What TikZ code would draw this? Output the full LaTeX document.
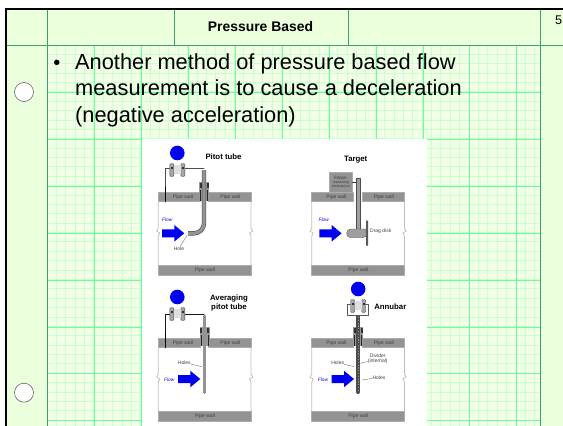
\documentclass[tikz,border=0pt]{standalone}
\usepackage{fontspec}
\setmainfont{Liberation Sans}
\definecolor{cellgreen}{HTML}{EBFFDC}
\definecolor{paleline}{HTML}{CCFFCC}
\definecolor{majorline}{HTML}{66FF99}
\definecolor{ruleline}{HTML}{3C9F70}
\definecolor{flowblue}{HTML}{0000F0}
\tikzset{
  minorline/.style={paleline,line width=1pt,line cap=butt},
  gridline/.style={majorline,line width=1pt,line cap=butt},
  headrule/.style={ruleline,line width=1pt,line cap=butt},
  wallbox/.style={fill=gray!85,draw=gray!65,line width=0.5pt},
  pipeside/.style={gray!50,line width=0.8pt},
  tiny label/.style={font=\fontsize{5}{5.4}\selectfont,text=black!75,inner sep=0pt,align=center},
  panel title/.style={font=\fontsize{7.8}{9}\selectfont\bfseries,inner sep=0pt,align=center},
  flow label/.style={font=\fontsize{4.8}{5}\selectfont\itshape,text=flowblue,inner sep=0pt},
  leader/.style={black!55,line width=0.4pt},
  holecircle/.style={draw=gray!80!black,fill=white,line width=0.6pt}
}
% pipe section, #1 #2 shift, #3 name prefix
\newcommand{\pipebox}[3]{
\begin{scope}[shift={(#1,#2)},name prefix=#3-]
\draw[pipeside] (158.3,201.7)--(158.3,228)--(156.5,231)--(159.8,233)--(158.3,236)--(158.3,265.7);
\draw[pipeside] (251,201.7)--(251,228)--(252.8,231)--(249.5,233)--(251,236)--(251,265.7);
\draw[wallbox] (158.3,192.3) rectangle (200,201.7);
\draw[wallbox] (208.7,192.3) rectangle (251,201.7);
\draw[wallbox] (158.3,265.7) rectangle (251,275);
\node[tiny label] (wallleft) at (183,197) {Pipe wall};
\node[tiny label] (wallright) at (230.5,197) {Pipe wall};
\node[tiny label] (wallbottom) at (205,270.5) {Pipe wall};
\end{scope}
}
% transmitter with blue dome
\newcommand{\dpcell}[2]{
\fill[flowblue] (#1,#2-17) circle (7.3);
\draw[gray!60!black,fill=gray!70,line width=0.4pt,rounded corners=1pt] (#1-7.5,#2-6.5) rectangle (#1-3.5,#2+6.5);
\draw[gray!60!black,fill=gray!70,line width=0.4pt,rounded corners=1pt] (#1+3.5,#2-6.5) rectangle (#1+7.5,#2+6.5);
\fill[gray!25] (#1-3.5,#2-5) rectangle (#1+3.5,#2+4);
\fill[gray!40!black] (#1-6.5,#2-3) rectangle (#1-4.5,#2-1);
\fill[gray!40!black] (#1+4.5,#2-3) rectangle (#1+6.5,#2-1);
}
\newcommand{\pipefitting}[1]{
\fill[gray!80] (#1-5,181.7+\fitshift) rectangle (#1+5,201+\fitshift);
\fill[gray!40!black] (#1-4.5,183+\fitshift) rectangle (#1-2.5,188+\fitshift);
\fill[gray!40!black] (#1+2.5,183+\fitshift) rectangle (#1+4.5,188+\fitshift);
\fill[gray!30!black] (#1-4,190+\fitshift) rectangle (#1-3,201+\fitshift);
\fill[gray!30!black] (#1+3,190+\fitshift) rectangle (#1+4,201+\fitshift);
}
% blue arrow, #1 tail x, #2 centre y
\newcommand{\flowarrow}[2]{
\fill[flowblue] (#1,#2-4)--(#1+12.3,#2-4)--(#1+12.3,#2-8.3)--(#1+22.3,#2)--(#1+12.3,#2+8.3)--(#1+12.3,#2+4)--(#1,#2+4)--cycle;
}
\begin{document}
\begin{tikzpicture}[line cap=round,line join=round,x=1pt,y=-1pt]
\useasboundingbox (0,0) rectangle (563,426);

% paper
\fill[cellgreen] (6,9) rectangle (563,426);
\fill[cellgreen!70!white] (47,45) rectangle (540,426);
\foreach \i in {0,...,52} {
  \draw[minorline] (47+9.38*\i,45)--(47+9.38*\i,426);
}
\foreach \i in {0,...,40} {
  \draw[minorline] (47,45+9.38*\i)--(540,45+9.38*\i);
}
\foreach \x in {94.5,141.5,188.5,235.5,282.5,329.5,376.5,423.5,469.5,516.5} {
  \draw[gridline] (\x,45)--(\x,426);
}
\foreach \y in {92.5,139.5,186.5,233.5,280.5,327.5,373.5,420.5} {
  \draw[gridline] (47,\y)--(540,\y);
}

% header
\draw[headrule] (6,45.5)--(563,45.5);
\draw[headrule] (47.5,9)--(47.5,426);
\draw[headrule] (174.5,9)--(174.5,45.5);
\draw[headrule] (348.5,9)--(348.5,45.5);
\draw[headrule] (540.5,9)--(540.5,426);
\draw[line cap=butt,black,line width=2pt] (5,9)--(563,9);
\draw[line cap=butt,black,line width=2.2pt] (6.2,8)--(6.2,426);
\node[font=\fontsize{13.9}{15}\selectfont\bfseries,inner sep=0pt] (title) at (260.5,27) {Pressure Based};
\node[font=\fontsize{12.6}{14}\selectfont,inner sep=0pt] (pagenum) at (558.5,20.5) {5};

\node[holecircle,circle,minimum size=19pt,inner sep=0pt] (holetop) at (24,92) {};
\node[holecircle,circle,minimum size=19pt,inner sep=0pt] (holebottom) at (24,392.7) {};

% slide text
\node[font=\fontsize{20}{20}\selectfont,inner sep=0pt] (bullet) at (57,65) {•};
\node[font=\fontsize{21.8}{26.4}\selectfont,anchor=north west,align=left,inner sep=0pt] (body) at (75,53.5) {Another method of pressure based flow\\measurement is to cause a deceleration\\(negative acceleration)};

% figure
\fill[white] (142,139) rectangle (427,426);
\pipebox{0}{0}{pitot}
\pipebox{153.4}{0}{target}
\pipebox{0}{146}{avg}
\pipebox{153.4}{146}{ann}

% pitot tube
\node[panel title] (pitottitle) at (223.5,156.7) {Pitot tube};
\draw[gray!60!black,line width=0.7pt] (185,168.3)--(204,168.3);
\draw[gray!60!black,line width=0.7pt] (170,168.3)--(165.7,168.3)--(165.7,187);
\draw[black,line width=1.2pt] (165.7,187)--(165.7,201.7);
\def\fitshift{0}
\pipefitting{204}
\draw[gray!60!black,line width=4.4pt,line cap=butt,rounded corners=10pt] (204,170)--(204,233.3)--(188,233.3);
\draw[gray!85,line width=3.2pt,line cap=butt,rounded corners=10pt] (204,170)--(204,233.3)--(188,233.3);
\dpcell{177.3}{170}
\flowarrow{162}{233.3}
\node[flow label] (pitotflow) at (167.3,219.3) {Flow};
\node[tiny label] (pitothole) at (179,248.3) {Hole};
\coordinate (pitothit) at (187.3,235);
\draw[leader] (pitothole)--(pitothit);

% target
\node[panel title] (targettitle) at (355.7,160) {Target};
\node[wallbox,minimum width=22.7pt,minimum height=20.6pt,inner sep=0pt,anchor=north west,font=\fontsize{3.4}{4}\selectfont,align=center,text=black!80] (forcebox) at (329.3,171.7) {{\fontsize{4.6}{5}\selectfont Force-}\\measuring\\mechanism};
\fill[gray!75,draw=gray!60!black,line width=0.3pt] (355.7,178.3) rectangle (360.3,230);
\coordinate (rodside) at (355.7,182);
\draw[gray!40!black,line width=0.7pt] (forcebox.east |- rodside)--(rodside);
\draw[gray!60!black,fill=gray!75,line width=0.3pt,rounded corners=4pt] (366.7,229)--(346.7,229)--(346.7,237.7)--(366.7,237.7)[sharp corners]--cycle;
\fill[gray!70!black,rounded corners=0.8pt] (366,220.3) rectangle (368,246);
\node[tiny label] (dragdisk) at (380.7,231.7) {Drag disk};
\flowarrow{319.3}{233.3}
\node[flow label] (targetflow) at (323.7,219.3) {Flow};

% averaging pitot tube
\node[panel title] (avgtitle) at (229,303.3) {Averaging\\pitot tube};
\draw[gray!20!black,line width=0.7pt] (185,314)--(204,314);
\draw[gray!20!black,line width=0.7pt] (170,314)--(165.7,314)--(165.7,333);
\draw[black,line width=1.2pt] (165.7,333)--(165.7,347.7);
\def\fitshift{145}
\pipefitting{204.5}
\draw[gray!60!black,line width=3.6pt] (204.5,316.5)--(204.5,392);
\draw[gray!85,line width=2.4pt] (204.5,316.5)--(204.5,392);
\dpcell{177.3}{314}
\flowarrow{178}{379}
\node[flow label] (avgflow) at (169.3,379.3) {Flow};
\node[tiny label] (avgholes) at (184.3,362.7) {Holes};
\coordinate (avghit) at (202,366.7);
\draw[leader] (avgholes)--(avghit);

% annubar
\node[panel title] (annubartitle) at (390.3,306.3) {Annubar};
\def\fitshift{145}
\pipefitting{358.2}
\draw[gray!60!black,line width=4.2pt] (358.2,317)--(358.2,392);
\draw[gray!85,line width=1.2pt,dash pattern=on 1.2pt off 1.6pt,line cap=butt] (358.2,317)--(358.2,392);
\draw[gray!70!black,fill=white,line width=0.7pt] (347.3,304) rectangle (368.3,315);
\dpcell{358.2}{306}
\flowarrow{331.7}{379}
\node[flow label] (annflow) at (323,379.3) {Flow};
\node[tiny label] (annholesleft) at (337.7,362.7) {Holes};
\coordinate (annleft) at (354.3,366.7);
\draw[leader] (annholesleft)--(annleft);
\node[tiny label] (anndivider) at (377.7,359) {Divider\\(internal)};
\coordinate (anndiv) at (360,363.3);
\draw[leader] (anndivider)--(anndiv);
\node[tiny label] (annholesright) at (379,377.3) {Holes};
\coordinate (annright) at (362.3,380);
\draw[leader] (annholesright)--(annright);
\end{tikzpicture}
\end{document}
